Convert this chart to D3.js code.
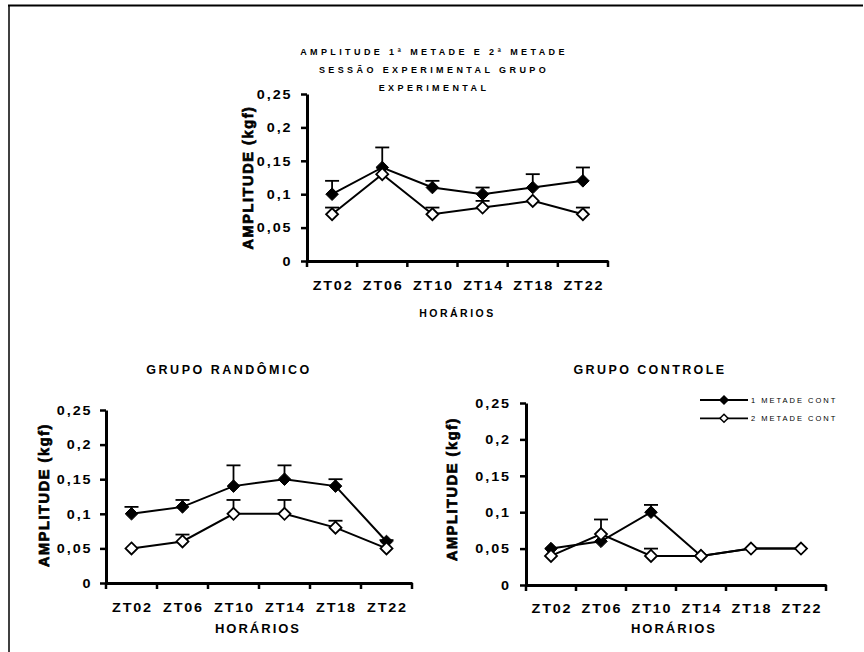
<!DOCTYPE html>
<html lang="pt">
<head>
<meta charset="UTF-8">
<title>Amplitude 1ª metade e 2ª metade</title>
<script src="https://cdn.jsdelivr.net/npm/d3@7"></script>
<style>
  body { margin: 0; background: #fff; }
  text { font-family: "Liberation Sans", Arial, sans-serif; fill: #000; }
  .bold { font-weight: bold; }
  .heavy { font-weight: bold; stroke: #000; stroke-width: 0.7px; }
</style>
</head>
<body>
<svg width="864" height="652"></svg>
<script>
  // categories and tick labels
  var horarios = ["ZT02", "ZT06", "ZT10", "ZT14", "ZT18", "ZT22"];
  var yTicks = [0, 0.05, 0.1, 0.15, 0.2, 0.25];
  var yTickLabels = ["0", "0,05", "0,1", "0,15", "0,2", "0,25"];
  var serieNames = ["1 METADE CONT", "2 METADE CONT"];

  // grupo experimental (values, upper error)
  var expMetade1 = [0.10, 0.14, 0.11, 0.10, 0.11, 0.12];
  var expMetade1Err = [0.02, 0.03, 0.01, 0.01, 0.02, 0.02];
  var expMetade2 = [0.07, 0.13, 0.07, 0.08, 0.09, 0.07];
  var expMetade2Err = [0.01, 0, 0.01, 0.01, 0, 0.01];

  // grupo randômico
  var randMetade1 = [0.10, 0.11, 0.14, 0.15, 0.14, 0.06];
  var randMetade1Err = [0.01, 0.01, 0.03, 0.02, 0.01, 0.002];
  var randMetade2 = [0.05, 0.06, 0.10, 0.10, 0.08, 0.05];
  var randMetade2Err = [0, 0.01, 0.02, 0.02, 0.01, 0];

  // grupo controle
  var contMetade1 = [0.05, 0.06, 0.10, 0.04, 0.05, 0.05];
  var contMetade1Err = [0, 0, 0.01, 0, 0, 0];
  var contMetade2 = [0.04, 0.07, 0.04, 0.04, 0.05, 0.05];
  var contMetade2Err = [0, 0.02, 0.01, 0, 0, 0];

  var svg = d3.select("svg");

  // outer frame (only top and left edges show)
  svg.append("line").attr("x1", 8).attr("x2", 863).attr("y1", 5.5).attr("y2", 5.5)
    .attr("stroke", "#000").attr("stroke-width", 2);
  svg.append("line").attr("x1", 9).attr("x2", 9).attr("y1", 5).attr("y2", 652)
    .attr("stroke", "#000").attr("stroke-width", 1.5);

  function diamond(r) {
    return "M0," + (-r) + "L" + r + ",0L0," + r + "L" + (-r) + ",0Z";
  }

  function drawChart(c, s1, e1, s2, e2) {
    var x = d3.scaleBand().domain(horarios).range([c.x0, c.x1]);
    var y = d3.scaleLinear().domain([0, 0.25]).range([c.yBot, c.yTop]);
    var cx = function (i) { return x(horarios[i]) + x.bandwidth() / 2; };

    // y axis
    var ya = svg.append("g")
      .attr("transform", "translate(" + c.x0 + ",0)")
      .call(d3.axisLeft(y).tickValues(yTicks)
        .tickFormat(function (d, i) { return yTickLabels[i]; })
        .tickSize(6).tickSizeOuter(0));
    ya.select(".domain").attr("stroke-width", 3);
    ya.selectAll(".tick line").attr("stroke-width", 2.5);
    ya.selectAll(".tick text")
      .attr("x", null).attr("dy", null)
      .attr("class", "bold")
      .style("font-size", "12px")
      .style("letter-spacing", "1.6px")
      .attr("transform", "translate(" + (c.yLabelEnd - c.x0) + ",4.3) scale(1.2,1)");

    // x axis, labels centred on bands, ticks on band edges
    var xa = svg.append("g")
      .attr("transform", "translate(0," + c.yBot + ")")
      .call(d3.axisBottom(x).tickSize(0).tickSizeOuter(0));
    xa.select(".domain").attr("stroke-width", 3);
    xa.selectAll(".tick text")
      .attr("y", null).attr("dy", null)
      .attr("class", "bold")
      .style("font-size", "12px")
      .style("letter-spacing", "1.5px")
      .attr("transform", "translate(1," + (c.xLabelBase - c.yBot) + ") scale(1.2,1)");
    xa.selectAll(".edge")
      .data(d3.range(horarios.length + 1))
      .enter().append("line")
      .attr("x1", function (i) { return c.x0 + i * x.step(); })
      .attr("x2", function (i) { return c.x0 + i * x.step(); })
      .attr("y1", 0).attr("y2", 6)
      .attr("stroke", "#000").attr("stroke-width", 2.5);

    // axis titles
    svg.append("text").attr("class", "heavy")
      .attr("transform", "translate(" + c.yTitleX + "," + c.yTitleY + ") rotate(-90)")
      .attr("y", 5.2)
      .attr("text-anchor", "middle")
      .style("font-size", "14.5px").style("letter-spacing", "1.6px")
      .text("AMPLITUDE (kgf)");
    svg.append("text").attr("class", "bold")
      .attr("x", c.xTitleX).attr("y", c.xTitleY)
      .attr("text-anchor", "middle")
      .style("font-size", c.xTitleSize + "px").style("letter-spacing", c.xTitleLs + "px")
      .text("HORÁRIOS");

    var line = d3.line().x(function (d, i) { return cx(i); }).y(function (d) { return y(d); });
    [s1, s2].forEach(function (s) {
      svg.append("path").datum(s).attr("d", line)
        .attr("fill", "none").attr("stroke", "#000").attr("stroke-width", 2);
    });

    // upper error bars
    [[s1, e1], [s2, e2]].forEach(function (p) {
      p[0].forEach(function (v, i) {
        if (!p[1][i]) return;
        var g = svg.append("g").attr("stroke", "#000").attr("stroke-width", 1.8);
        g.append("line").attr("x1", cx(i)).attr("x2", cx(i))
          .attr("y1", y(v)).attr("y2", y(v + p[1][i]));
        g.append("line").attr("x1", cx(i) - 7).attr("x2", cx(i) + 7)
          .attr("y1", y(v + p[1][i])).attr("y2", y(v + p[1][i]));
      });
    });

    // markers
    svg.append("g").selectAll("path").data(s1).enter().append("path")
      .attr("d", diamond(6.3))
      .attr("transform", function (d, i) { return "translate(" + cx(i) + "," + y(d) + ")"; })
      .attr("fill", "#000").attr("stroke", "#000").attr("stroke-width", 1);
    svg.append("g").selectAll("path").data(s2).enter().append("path")
      .attr("d", diamond(6))
      .attr("transform", function (d, i) { return "translate(" + cx(i) + "," + y(d) + ")"; })
      .attr("fill", "#fff").attr("stroke", "#000").attr("stroke-width", 1.8);
  }

  // top chart: grupo experimental
  var topTitle = ["AMPLITUDE 1ª METADE E 2ª METADE", "SESSÃO EXPERIMENTAL GRUPO", "EXPERIMENTAL"];
  var topTitleBase = [55, 73.3, 90.7];
  topTitle.forEach(function (t, i) {
    svg.append("text").attr("class", "bold")
      .attr("x", 434).attr("y", topTitleBase[i])
      .attr("text-anchor", "middle")
      .style("font-size", "9px").style("letter-spacing", "3.4px")
      .text(t);
  });
  drawChart({
    x0: 307, x1: 608, yTop: 94, yBot: 261,
    yLabelEnd: 292.5, xLabelBase: 290,
    yTitleX: 247.5, yTitleY: 177.5,
    xTitleX: 457.5, xTitleY: 317, xTitleSize: 10.5, xTitleLs: 2.5
  }, expMetade1, expMetade1Err, expMetade2, expMetade2Err);

  // bottom left: grupo randômico
  svg.append("text").attr("class", "bold")
    .attr("x", 229).attr("y", 374).attr("text-anchor", "middle")
    .style("font-size", "12.5px").style("letter-spacing", "2.5px")
    .text("GRUPO RANDÔMICO");
  drawChart({
    x0: 106, x1: 412, yTop: 410, yBot: 583,
    yLabelEnd: 92.5, xLabelBase: 611.5,
    yTitleX: 43.3, yTitleY: 495,
    xTitleX: 258, xTitleY: 633.3, xTitleSize: 13, xTitleLs: 2
  }, randMetade1, randMetade1Err, randMetade2, randMetade2Err);

  // bottom right: grupo controle
  svg.append("text").attr("class", "bold")
    .attr("x", 650).attr("y", 374).attr("text-anchor", "middle")
    .style("font-size", "12.5px").style("letter-spacing", "2.4px")
    .text("GRUPO CONTROLE");
  drawChart({
    x0: 526, x1: 826, yTop: 403, yBot: 585,
    yLabelEnd: 511, xLabelBase: 613,
    yTitleX: 452, yTitleY: 489,
    xTitleX: 674, xTitleY: 633.3, xTitleSize: 13, xTitleLs: 2
  }, contMetade1, contMetade1Err, contMetade2, contMetade2Err);

  // legend
  var legY = [400, 418.3];
  serieNames.forEach(function (name, i) {
    var g = svg.append("g").attr("transform", "translate(0," + legY[i] + ")");
    g.append("line").attr("x1", 700).attr("x2", 748).attr("y1", 0).attr("y2", 0)
      .attr("stroke", "#000").attr("stroke-width", 1.8);
    g.append("path").attr("d", diamond(4)).attr("transform", "translate(724,0)")
      .attr("fill", i === 0 ? "#000" : "#fff").attr("stroke", "#000").attr("stroke-width", 1.5);
    g.append("text").attr("x", 751).attr("y", 2.6)
      .style("font-size", "7.5px").style("letter-spacing", "2px")
      .text(name);
  });
</script>
</body>
</html>
